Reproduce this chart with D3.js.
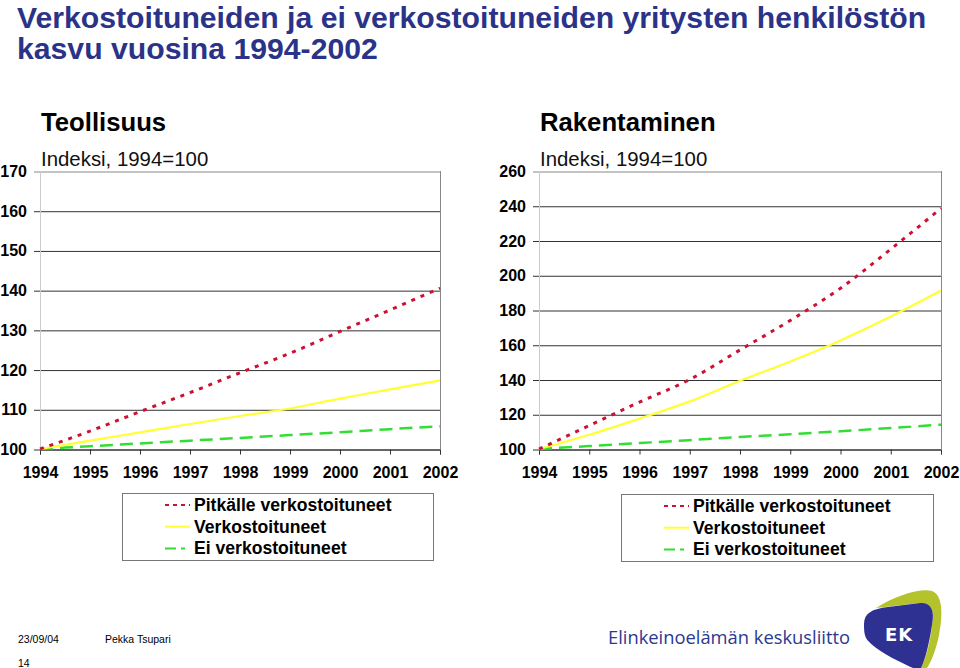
<!DOCTYPE html>
<html><head><meta charset="utf-8">
<script src="https://cdn.jsdelivr.net/npm/d3@7"></script>
<style>body{margin:0;background:#fff}svg{display:block}</style>
</head><body>
<svg id="c" width="960" height="668"></svg>
<script>
const years = [1994,1995,1996,1997,1998,1999,2000,2001,2002];
const seriesNames = ["Pitkälle verkostoituneet","Verkostoituneet","Ei verkostoituneet"];
// Teollisuus
const teolPitkalle = [100,104.5,109.4,114.2,119.2,124.1,129.6,135.0,140.5];
const teolVerk     = [100,102.1,104.2,106.3,108.3,110.2,112.7,115.0,117.3];
const teolEi       = [100,100.7,101.4,102.1,102.8,103.5,104.2,105.0,105.7];
// Rakentaminen
const rakPitkalle  = [100,113.5,127.0,140.0,157.0,174.0,192.5,215.0,238.5];
const rakVerk      = [100,108.2,117.5,127.4,139.3,150.4,162.5,176.2,191.2];
const rakEi        = [100,101.7,103.4,105.1,106.9,108.5,110.2,112.1,114.0];
const teolTicks = [100,110,120,130,140,150,160,170];
const rakTicks  = [100,120,140,160,180,200,220,240,260];
const panelTitles = ["Teollisuus","Rakentaminen"];
const subTitle = "Indeksi, 1994=100";
const mainTitle = ["Verkostoituneiden ja ei verkostoituneiden yritysten henkilöstön","kasvu vuosina 1994-2002"];

const styles = [
  {color:"#cc1133", width:3, dash:"4,6", legDash:"4,4"},
  {color:"#ffff33", width:2.2, dash:null, legDash:null},
  {color:"#33dd33", width:2.5, dash:"13,7", legDash:"11,5,4,5"}
];
const FONT = "'Liberation Sans', Arial, sans-serif";
const svg = d3.select("#c");

// main title (two lines)
svg.selectAll("text.mt").data(mainTitle).join("text").attr("class","mt")
  .attr("x",17).attr("y",(d,i)=>i?58.5:27.5).attr("fill","#2b3388")
  .attr("font-family",FONT).attr("font-weight","bold").attr("font-size",30.2)
  .text(d=>d);

function panel(cfg){
  const {x0,x1,y0,y1,ticks,series,title,legBox} = cfg;
  const g = svg.append("g");
  const x = d3.scaleLinear().domain([years[0],years[years.length-1]]).range([x0,x1]);
  const y = d3.scaleLinear().domain([ticks[0],ticks[ticks.length-1]]).range([y1,y0]);
  const top = ticks[ticks.length-1];
  // gridlines (with short extension to the left)
  g.append("g").attr("transform",`translate(${x0},0.5)`)
    .call(d3.axisLeft(y).tickValues(ticks).tickSizeInner(-(x1-x0)).tickSizeOuter(0).tickFormat(""))
    .call(a=>a.select(".domain").remove())
    .call(a=>a.selectAll("line").attr("stroke",d=> d===top ? "#888" : "#333").attr("stroke-width",1)
        .attr("x1",-6).attr("x2", x1-x0));
  // left axis faint, right border
  g.append("line").attr("x1",x0+0.5).attr("x2",x0+0.5).attr("y1",y0).attr("y2",y1).attr("stroke","#ccc");
  g.append("line").attr("x1",x1+0.5).attr("x2",x1+0.5).attr("y1",y0).attr("y2",y1).attr("stroke","#888");
  // y labels
  g.append("g").selectAll("text").data(ticks).join("text")
    .attr("x",x0-13).attr("y",d=>y(d)+6).attr("text-anchor","end")
    .attr("font-family",FONT).attr("font-weight","bold").attr("font-size",16).attr("fill","#000")
    .text(d=>d);
  // x axis
  const xa = g.append("g").attr("transform",`translate(0,${Math.round(y1)+0.5})`)
    .call(d3.axisBottom(x).tickValues(years).tickFormat(d3.format("d")).tickSize(5).tickPadding(12));
  xa.select(".domain").attr("stroke","#333");
  xa.selectAll("line").attr("stroke","#333");
  xa.selectAll("text").attr("font-family",FONT).attr("font-weight","bold").attr("font-size",16).attr("fill","#000");
  // titles
  g.append("text").attr("x",x0+1).attr("y",131).attr("font-family",FONT).attr("font-weight","bold")
    .attr("font-size",25.7).text(title);
  g.append("text").attr("x",x0+1).attr("y",166).attr("font-family",FONT)
    .attr("font-size",20.4).attr("fill","#111").text(subTitle);
  // lines
  const line = d3.line().x((d,i)=>x(years[i])).y(d=>y(d)).curve(d3.curveMonotoneX);
  [2,1,0].forEach(k=>{
    g.append("path").attr("d",line(series[k])).attr("fill","none")
      .attr("stroke",styles[k].color).attr("stroke-width",styles[k].width)
      .attr("stroke-dasharray",styles[k].dash);
  });
  // legend
  const [lx,ly,lw,lh] = legBox;
  const lg = g.append("g");
  lg.append("rect").attr("x",lx+0.5).attr("y",ly+0.5).attr("width",lw).attr("height",lh)
    .attr("fill","#fff").attr("stroke","#777");
  seriesNames.forEach((n,i)=>{
    const yy = ly+12+i*21.7;
    lg.append("line").attr("x1",lx+43).attr("x2",lx+68).attr("y1",yy).attr("y2",yy)
      .attr("stroke",styles[i].color).attr("stroke-width",2).attr("stroke-dasharray",styles[i].legDash);
    lg.append("text").attr("x",lx+72).attr("y",yy+6).attr("font-family",FONT).attr("font-weight","bold")
      .attr("font-size",17.6).text(n);
  });
}

panel({x0:40,x1:440,y0:171,y1:449,ticks:teolTicks,series:[teolPitkalle,teolVerk,teolEi],
  title:panelTitles[0],legBox:[122,493,311,67]});
panel({x0:539,x1:941,y0:171,y1:449,ticks:rakTicks,series:[rakPitkalle,rakVerk,rakEi],
  title:panelTitles[1],legBox:[621,494,312,67]});

// footer
const NARROW = "'Liberation Sans Narrow','Arial Narrow','Liberation Sans',sans-serif";
svg.append("text").attr("x",18).attr("y",643).attr("font-family",NARROW).attr("font-size",10.5).text("23/09/04");
svg.append("text").attr("x",105).attr("y",643).attr("font-family",NARROW).attr("font-size",10.5).text("Pekka Tsupari");
svg.append("text").attr("x",18).attr("y",667).attr("font-family",NARROW).attr("font-size",10.5).text("14");
svg.append("text").attr("x",608).attr("y",644).attr("font-family","'Open Sans','Noto Sans',sans-serif")
  .attr("font-size",18).attr("fill","#2b3990").attr("textLength",242).attr("lengthAdjust","spacingAndGlyphs")
  .text("Elinkeinoelämän keskusliitto");
// EK logo
const logo = svg.append("g");
logo.append("path").attr("fill","#b4c22b")
  .attr("d","M876,608 C895,596 920,588 932,591 C943,595 943,615 939,635 C936,650 931,662 927,668 L921,668 C925,660 930,645 932,625 C935,610 931,602 920,603 Z");
logo.append("path").attr("fill","#2e3192")
  .attr("d","M864,624 C864,613 872,609 888,607 L920,603 C931,602 935,610 932,625 C929,645 925,660 921,668 L913,668 C895,660 872,648 866,638 C864,634 864,629 864,624 Z");
logo.append("text").attr("x",899).attr("y",641).attr("text-anchor","middle").attr("fill","#fff")
  .attr("font-family","'DejaVu Sans',sans-serif").attr("font-weight","bold").attr("font-size",18)
  .attr("letter-spacing",1).text("EK");
</script>
</body></html>
